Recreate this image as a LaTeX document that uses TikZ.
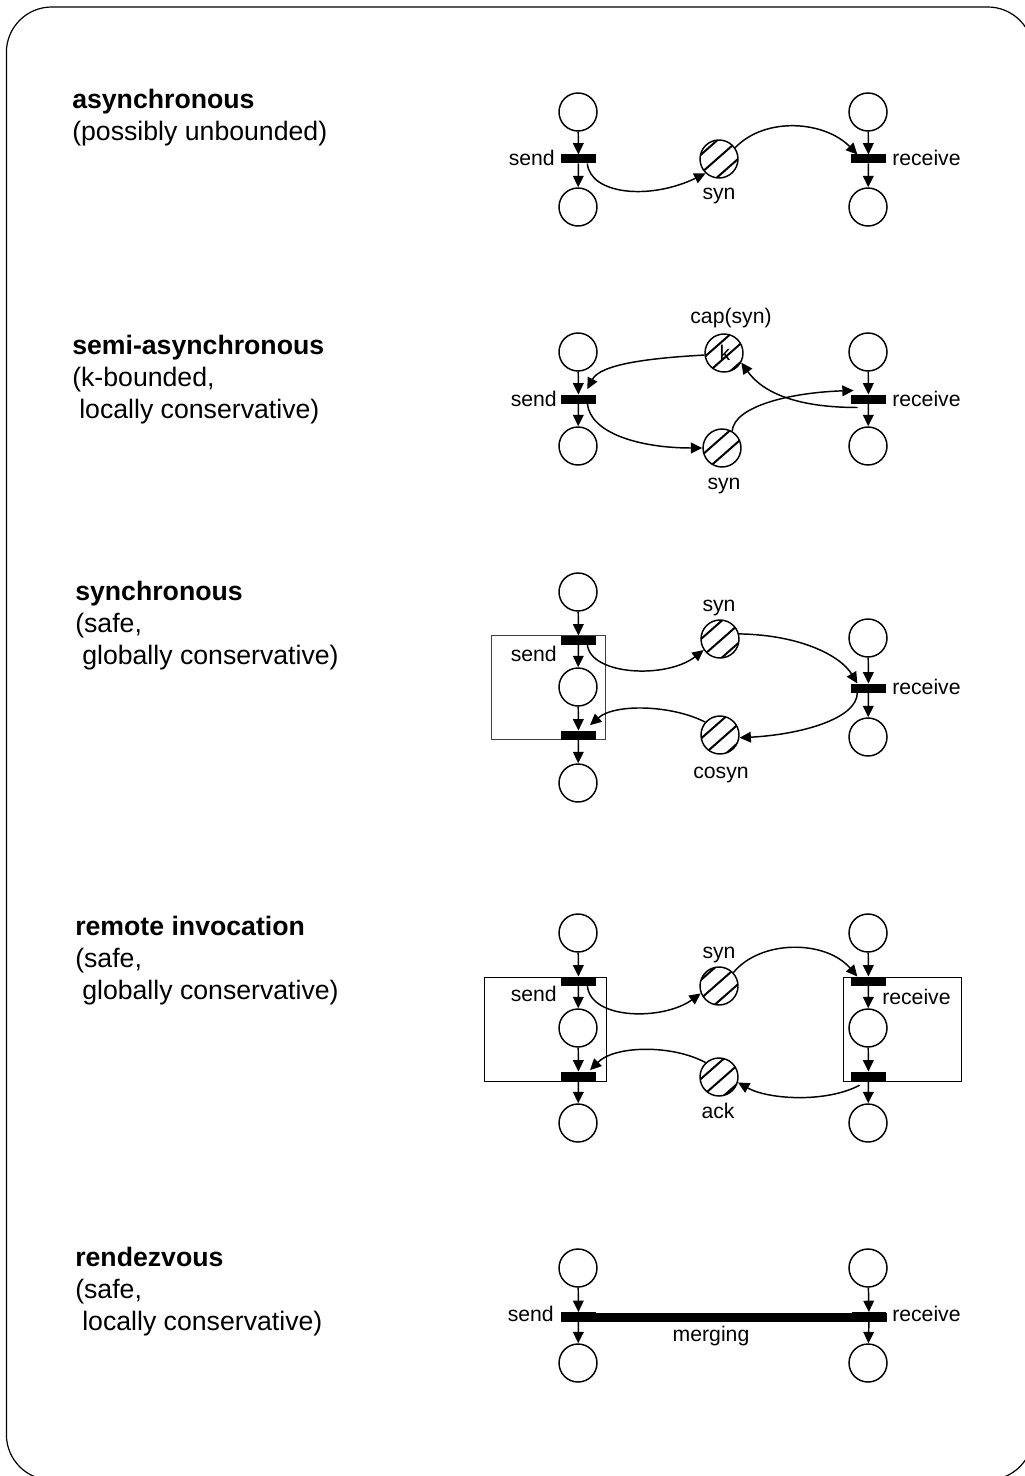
\documentclass[tikz,border=0pt]{standalone}
\usepackage{fontspec}
\setmainfont{Liberation Sans}
\usetikzlibrary{arrows.meta}

\tikzset{
  place/.style={draw,circle,line width=1.1pt,minimum size=28.5pt,inner sep=0pt},
  hatched/.style={place,path picture={
    \foreach \d in {-42,-21,0,21,42}
      \draw[line width=1.5pt,shift={(path picture bounding box.center)}] ({\d+(#1)-25},22) -- ({\d+(#1)+25},-22);
  }},
  hatched/.default=0,
  trans/.style={fill=black,minimum width=26pt,minimum height=6.75pt,inner sep=0pt,outer sep=0pt},
  mergebar/.style={fill=black,minimum width=244.5pt,minimum height=6.6pt,inner sep=0pt,outer sep=0pt},
  flow/.style={line width=1.1pt,-{Triangle[length=8.5pt,width=8pt]}},
  block/.style={draw=black!75,line width=0.65pt,inner sep=0pt},
  lbl/.style={inner sep=0pt,font=\fontsize{15.9}{18}\selectfont},
  titlelbl/.style={anchor=base west,inner sep=0pt,font=\fontsize{20}{24}\selectfont\bfseries},
  notelbl/.style={anchor=base west,inner sep=0pt,font=\fontsize{20}{24}\selectfont},
  frame/.style={draw,line width=0.9pt,rounded corners=34pt,inner sep=0pt}
}

\begin{document}
\begin{tikzpicture}[x=0.75pt,y=-0.75pt]
  \useasboundingbox (0,0) rectangle (1024,1476);

  \node[frame,minimum width=770pt,minimum height=1104.75pt] (frame) at (519.75,743.5) {};

  %Shape: asynchronous
  \node[titlelbl] (title1) at (72,109) {asynchronous};
  \node[notelbl] (note1a) at (72,141) {(possibly unbounded)};
  \node[place] (in1) at (578,112) {};
  \node[place] (out1) at (578,207) {};
  \node[trans] (tsend1) at (578.5,159) {};
  \node[place] (in1r) at (868,112) {};
  \node[place] (out1r) at (868,207) {};
  \node[trans] (trecv1) at (868.5,159) {};
  \node[hatched=-2] (syn1) at (719,159) {};
  \node[lbl,anchor=base east] (lsend1) at (555,166) {send};
  \node[lbl,anchor=base west] (lrecv1) at (892,166) {receive};
  \node[lbl,anchor=base] (lsyn1) at (719,200) {syn};
  \draw[flow] (in1) -- (tsend1);
  \draw[flow] (tsend1) -- (out1);
  \draw[flow] (in1r) -- (trecv1);
  \draw[flow] (trecv1) -- (out1r);
  \draw[flow] (tsend1.-27) .. controls +(3,31) and +(-56,27) .. (syn1.227);
  \draw[flow] (syn1.35) .. controls +(31,-32) and +(-32,-33) .. (trecv1.158);

  %Shape: semi-asynchronous
  \node[titlelbl] (title2) at (72,354) {semi-asynchronous};
  \node[notelbl] (note2a) at (72,386) {(k-bounded,};
  \node[notelbl] (note2b) at (79,418) {locally conservative)};
  \node[place] (in2) at (578,352) {};
  \node[place] (out2) at (578,446) {};
  \node[trans] (tsend2) at (578.5,399) {};
  \node[place] (in2r) at (868,352) {};
  \node[place] (out2r) at (868,446) {};
  \node[trans] (trecv2) at (868.5,399) {};
  \node[hatched=6] (cap2) at (724,353) {};
  \node[hatched=-12] (syn2) at (722,448) {};
  \node[lbl,anchor=base] (lk2) at (725,360) {k};
  \node[lbl,anchor=base east] (lsend2) at (557,406) {send};
  \node[lbl,anchor=base west] (lrecv2) at (892,406) {receive};
  \node[lbl,anchor=base] (lcap2) at (731,324) {cap(syn)};
  \node[lbl,anchor=base] (lsyn2) at (724,489) {syn};
  \draw[flow] (in2) -- (tsend2);
  \draw[flow] (tsend2) -- (out2);
  \draw[flow] (in2r) -- (trecv2);
  \draw[flow] (trecv2) -- (out2r);
  \draw[flow] (cap2.186) .. controls +(-55,3) and +(13,-25) .. ([yshift=4pt]tsend2.27);
  \draw[flow] (tsend2.-27) .. controls +(3,30) and +(-62,0) .. (syn2.180);
  \draw[flow] (syn2.59) .. controls +(2,-25) and +(-63,2) .. ([xshift=-4.5pt,yshift=3pt]trecv2.153);
  \draw[flow] ([xshift=-1.5pt,yshift=-3pt]trecv2.-153) .. controls +(-57,0) and +(23,32) .. (cap2.-29);

  %Shape: synchronous
  \node[titlelbl] (title3) at (75,600) {synchronous};
  \node[notelbl] (note3a) at (75,632) {(safe,};
  \node[notelbl] (note3b) at (82,664) {globally conservative)};
  \node[block,minimum width=85.5pt,minimum height=78pt] (box3) at (548,687) {};
  \node[place] (in3) at (578,592) {};
  \node[place] (mid3) at (578,687) {};
  \node[place] (out3) at (578,783) {};
  \node[trans] (tsend3) at (578.5,640) {};
  \node[trans] (tack3) at (578.5,735) {};
  \node[place] (in3r) at (868,638) {};
  \node[place] (out3r) at (868,737) {};
  \node[trans] (trecv3) at (868.5,688) {};
  \node[hatched=2] (syn3) at (720,639) {};
  \node[hatched=-15] (cosyn3) at (720,735) {};
  \node[lbl,anchor=base east] (lsend3) at (557,661) {send};
  \node[lbl,anchor=base west] (lrecv3) at (892,694) {receive};
  \node[lbl,anchor=base] (lsyn3) at (719,611) {syn};
  \node[lbl,anchor=base] (lcosyn3) at (721,778) {cosyn};
  \draw[flow] (in3) -- (tsend3);
  \draw[flow] (tsend3) -- (mid3);
  \draw[flow] (mid3) -- (tack3);
  \draw[flow] (tack3) -- (out3);
  \draw[flow] (in3r) -- (trecv3);
  \draw[flow] (trecv3) -- (out3r);
  \draw[flow] (tsend3.-27) .. controls +(3,31) and +(-37,29) .. (syn3.214);
  \draw[flow] (syn3.15) .. controls +(61,1) and +(-17,-28) .. (trecv3.158);
  \draw[flow] (trecv3.-158) .. controls +(0,27) and +(59,-3) .. (cosyn3.-8);
  \draw[flow] (cosyn3.139) .. controls +(-33,-17) and +(25,-22) .. ([xshift=2pt,yshift=4pt]tack3.27);

  %Shape: remote invocation
  \node[titlelbl] (title4) at (75,935) {remote invocation};
  \node[notelbl] (note4a) at (75,967) {(safe,};
  \node[notelbl] (note4b) at (82,999) {globally conservative)};
  \node[block,draw=black,minimum width=91pt,minimum height=78pt] (box4) at (545.5,1029) {};
  \node[block,draw=black,minimum width=88.5pt,minimum height=78pt] (box4r) at (902,1029) {};
  \node[place] (in4) at (578,933) {};
  \node[place] (mid4) at (578,1028) {};
  \node[place] (out4) at (578,1123) {};
  \node[trans] (tsend4) at (578.5,981) {};
  \node[trans] (tack4) at (578.5,1076) {};
  \node[place] (in4r) at (868,933) {};
  \node[place] (mid4r) at (868,1028) {};
  \node[place] (out4r) at (868,1123) {};
  \node[trans] (trecv4) at (868.5,981) {};
  \node[trans] (treply4) at (868.5,1076) {};
  \node[hatched=-4] (syn4) at (719,986) {};
  \node[hatched=-16] (ack4) at (719,1077) {};
  \node[lbl,anchor=base east] (lsend4) at (557,1001) {send};
  \node[lbl,anchor=base west] (lrecv4) at (882,1004) {receive};
  \node[lbl,anchor=base] (lsyn4) at (719,958) {syn};
  \node[lbl,anchor=base] (lack4) at (718,1118) {ack};
  \draw[flow] (in4) -- (tsend4);
  \draw[flow] (tsend4) -- (mid4);
  \draw[flow] (mid4) -- (tack4);
  \draw[flow] (tack4) -- (out4);
  \draw[flow] (in4r) -- (trecv4);
  \draw[flow] (trecv4) -- (mid4r);
  \draw[flow] (mid4r) -- (treply4);
  \draw[flow] (treply4) -- (out4r);
  \draw[flow] (tsend4.-27) .. controls +(3,35) and +(-37,27) .. (syn4.202);
  \draw[flow] (syn4.43) .. controls +(27,-33) and +(-32,-37) .. (trecv4.158);
  \draw[flow] ([yshift=-3.5pt]treply4.-153) .. controls +(-34,18) and +(30,17) .. (ack4.-16);
  \draw[flow] (ack4.133) .. controls +(-33,-18) and +(25,-25) .. ([xshift=2pt,yshift=1pt]tack4.27);

  %Shape: rendezvous
  \node[titlelbl] (title5) at (75,1266) {rendezvous};
  \node[notelbl] (note5a) at (75,1298) {(safe,};
  \node[notelbl] (note5b) at (82,1330) {locally conservative)};
  \node[place] (in5) at (578,1268) {};
  \node[place] (out5) at (578,1363) {};
  \node[place] (in5r) at (868,1268) {};
  \node[place] (out5r) at (868,1363) {};
  \node[trans] (tsend5) at (578.5,1316.5) {};
  \node[trans] (trecv5) at (869,1316.5) {};
  \node[mergebar] (bar5) at (724,1317.3) {};
  \node[lbl,anchor=base east] (lsend5) at (554,1321) {send};
  \node[lbl,anchor=base west] (lrecv5) at (892,1321) {receive};
  \node[lbl,anchor=base] (lmerge5) at (711,1341) {merging};
  \draw[flow] (in5) -- (tsend5);
  \draw[flow] (tsend5) -- (out5);
  \draw[flow] (in5r) -- (trecv5);
  \draw[flow] (trecv5) -- (out5r);
\end{tikzpicture}
\end{document}
